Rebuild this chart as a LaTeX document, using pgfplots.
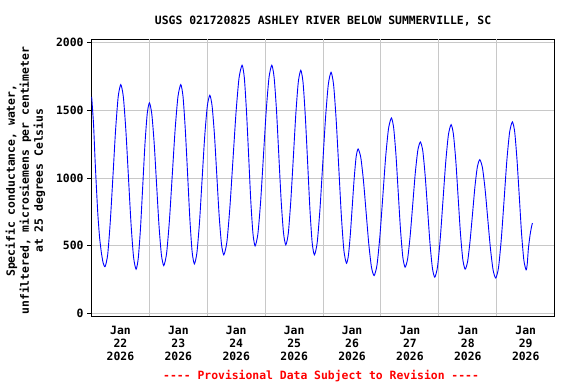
\documentclass[border=0pt]{standalone}
\usepackage{fontspec}
\setmonofont{DejaVu Sans Mono}
\usepackage{pgfplots}
\pgfplotsset{compat=1.18}
\definecolor{gridgray}{RGB}{200,200,200}
\pgfplotstableread{
t v
0.003 1601
0.035 1400
0.060 1150
0.085 930
0.110 730
0.140 560
0.170 450
0.200 375
0.235 345
0.280 435
0.325 682
0.371 1018
0.416 1355
0.461 1601
0.506 1691
0.550 1600
0.594 1350
0.638 1008
0.682 667
0.726 417
0.770 326
0.808 408
0.847 634
0.885 941
0.923 1249
0.962 1474
1.000 1556
1.041 1475
1.083 1255
1.124 954
1.165 654
1.207 434
1.248 353
1.297 443
1.346 688
1.395 1022
1.444 1357
1.493 1601
1.542 1691
1.581 1602
1.620 1359
1.660 1028
1.699 696
1.738 454
1.777 365
1.821 449
1.866 677
1.910 989
1.954 1300
1.999 1528
2.043 1612
2.083 1533
2.124 1317
2.164 1022
2.204 727
2.245 511
2.285 432
2.338 526
2.390 783
2.443 1133
2.496 1484
2.548 1740
2.601 1834
2.639 1744
2.676 1500
2.714 1166
2.751 832
2.789 588
2.826 498
2.874 588
2.922 832
2.970 1166
3.018 1500
3.066 1744
3.114 1834
3.154 1745
3.195 1502
3.235 1170
3.275 838
3.316 595
3.356 506
3.399 592
3.442 829
3.486 1152
3.529 1474
3.572 1711
3.615 1797
3.654 1706
3.693 1456
3.733 1114
3.772 773
3.811 523
3.850 432
3.898 522
3.946 770
3.994 1107
4.042 1445
4.090 1692
4.138 1782
4.182 1687
4.226 1429
4.271 1076
4.315 723
4.359 465
4.403 370
4.437 427
4.470 581
4.504 793
4.538 1004
4.571 1158
4.605 1215
4.651 1152
4.697 981
4.743 747
4.789 513
4.835 342
4.881 279
4.931 357
4.981 570
5.031 862
5.080 1153
5.130 1366
5.180 1444
5.219 1370
5.259 1168
5.298 892
5.337 617
5.377 415
5.416 341
5.460 403
5.504 573
5.548 804
5.592 1036
5.636 1205
5.680 1267
5.722 1200
5.763 1017
5.805 767
5.846 517
5.888 334
5.929 267
5.976 343
6.023 549
6.070 831
6.117 1113
6.164 1319
6.211 1395
6.251 1323
6.292 1128
6.332 860
6.372 593
6.413 398
6.453 326
6.495 380
6.537 529
6.580 731
6.622 934
6.664 1082
6.706 1136
6.752 1077
6.798 917
6.844 698
6.890 480
6.936 320
6.982 261
7.030 338
7.078 550
7.126 838
7.173 1127
7.221 1338
7.269 1415
7.309 1342
7.348 1141
7.388 868
7.427 594
7.467 394
7.506 321
7.525 360
7.546 480
7.575 580
7.600 640
7.615 667
}\sctable
\begin{document}
\ttfamily\bfseries\fontsize{11.4bp}{13bp}\selectfont
\begin{tikzpicture}
\useasboundingbox (0,0) rectangle (576bp,384bp);
\begin{axis}[
  at={(91.5bp,68bp)}, anchor=south west,
  scale only axis, width=463.2bp, height=276.7bp,
  xmin=0, xmax=8, ymin=-20, ymax=2026,
  clip=false,
  axis line style={line width=1bp, black},
  xtick={0.5,1.5,2.5,3.5,4.5,5.5,6.5,7.5},
  xticklabels={{Jan\\22\\2026},{Jan\\23\\2026},{Jan\\24\\2026},{Jan\\25\\2026},{Jan\\26\\2026},{Jan\\27\\2026},{Jan\\28\\2026},{Jan\\29\\2026}},
  xtick style={draw=none},
  xticklabel style={align=center, anchor=north, inner sep=0pt, yshift=-6bp, font=\ttfamily\bfseries\fontsize{11.4bp}{12.8bp}\selectfont},
  extra x ticks={1,2,3,4,5,6,7},
  extra x tick labels={},
  extra x tick style={grid=major, major grid style={gridgray, line width=1bp}},
  ytick={0,500,1000,1500,2000},
  ymajorgrids,
  major grid style={gridgray, line width=1bp},
  ytick style={black, line width=0.8bp},
  tick align=outside, major tick length=4bp,
  xtick pos=bottom, ytick pos=left,
  yticklabel style={font=\ttfamily\bfseries\fontsize{11.4bp}{13bp}\selectfont},
  /pgf/number format/assume math mode=true,
  /pgf/number format/1000 sep={},
  title={USGS 021720825 ASHLEY RIVER BELOW SUMMERVILLE, SC},
  title style={at={(0.5,1)}, anchor=base, yshift=9bp, inner sep=0pt, font=\ttfamily\bfseries\fontsize{11.4bp}{13bp}\selectfont},
]
\addplot[blue, line width=0.9bp, smooth, tension=0.4, mark=none] table[x=t, y=v] {\sctable};
\node[anchor=center, rotate=90, align=center, font=\ttfamily\bfseries\fontsize{11.4bp}{14bp}\selectfont] at (rel axis cs:-0.1425,0.489) {Specific conductance, water,\\unfiltered, microsiemens per centimeter\\at 25 degrees Celsius};
\node[anchor=base, text=red, inner sep=0pt, font=\ttfamily\bfseries\fontsize{11.4bp}{13bp}\selectfont] at (rel axis cs:0.4957,0) [yshift=-63bp] {---- Provisional Data Subject to Revision ----};
\end{axis}
\end{tikzpicture}
\end{document}
